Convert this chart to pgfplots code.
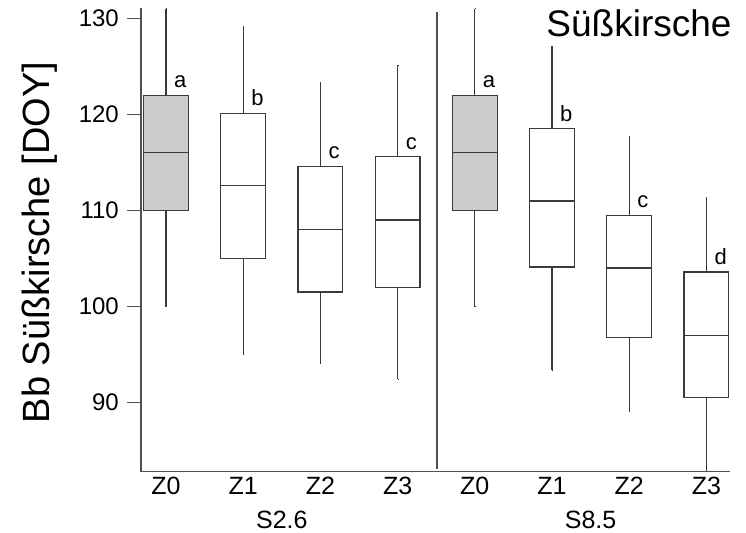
\documentclass[border=0pt]{standalone}
\usepackage{pgfplots}
\pgfplotsset{compat=1.18}
\usepgfplotslibrary{statistics}
\usepackage{fontspec}
\setmainfont{Liberation Sans}

\definecolor{lc}{HTML}{3A3A3A}
\definecolor{axc}{HTML}{505050}
\definecolor{boxfill}{HTML}{CCCCCC}

\pgfplotsset{
  bx/.style={draw=lc, line width=1.3bp, solid},
  boxplot/whisker extend=0.001,
  boxplot/box extend=0.58,
}
\tikzset{
  sig/.style={anchor=base west, inner sep=0pt, font=\fontsize{22bp}{26bp}\selectfont, text=black, xshift=8bp, yshift=7.5bp},
  grp/.style={anchor=base, inner sep=0pt, font=\fontsize{25bp}{30bp}\selectfont, text=black, yshift=-57bp},
}

\begin{document}
\begin{tikzpicture}
\begin{axis}[
  scale only axis,
  width=589bp, height=463.4bp,
  xmin=-0.324, xmax=7.306,
  ymin=82.8, ymax=131.05,
  axis x line*=bottom, axis y line*=left,
  axis line style={draw=axc, line width=1.5bp},
  clip=false,
  ytick={90,100,110,120,130},
  tick align=outside,
  major tick length=14bp,
  ytick style={draw=axc, line width=1.5bp},
  xtick={0,1,2,3,4,5,6,7},
  xticklabels={Z0,Z1,Z2,Z3,Z0,Z1,Z2,Z3},
  xtick style={draw=none},
  /pgf/number format/assume math mode=true,
  yticklabel style={font=\fontsize{24bp}{28bp}\selectfont, text=black, inner sep=0pt, xshift=-8bp},
  xticklabel style={font=\fontsize{25bp}{30bp}\selectfont, text=black, anchor=base, inner sep=0pt, yshift=-8.3bp},
  boxplot/draw direction=y,
]
% S2.6
\addplot[bx, fill=boxfill, boxplot prepared={draw position=0, lower whisker=100, lower quartile=110, median=116, upper quartile=122, upper whisker=131}] coordinates {};
\addplot[bx, fill=white, boxplot prepared={draw position=1, lower whisker=95, lower quartile=105, median=112.6, upper quartile=120.1, upper whisker=129.1}] coordinates {};
\addplot[bx, fill=white, boxplot prepared={draw position=2, lower whisker=94.1, lower quartile=101.5, median=108, upper quartile=114.6, upper whisker=123.3}] coordinates {};
\addplot[bx, fill=white, boxplot prepared={draw position=3, lower whisker=92.4, lower quartile=102, median=109, upper quartile=115.6, upper whisker=125.1}] coordinates {};
% S8.5
\addplot[bx, fill=boxfill, boxplot prepared={draw position=4, lower whisker=100, lower quartile=110, median=116, upper quartile=122, upper whisker=131}] coordinates {};
\addplot[bx, fill=white, boxplot prepared={draw position=5, lower whisker=93.4, lower quartile=104.1, median=111, upper quartile=118.5, upper whisker=127.1}] coordinates {};
\addplot[bx, fill=white, boxplot prepared={draw position=6, lower whisker=89.1, lower quartile=96.8, median=104, upper quartile=109.5, upper whisker=117.7}] coordinates {};
\addplot[bx, fill=white, boxplot prepared={draw position=7, lower whisker=82.9, lower quartile=90.55, median=97, upper quartile=103.6, upper whisker=111.35}] coordinates {};

\node[sig] at (axis cs:0,122) {a};
\node[sig] at (axis cs:1,120.1) {b};
\node[sig] at (axis cs:2,114.6) {c};
\node[sig] at (axis cs:3,115.6) {c};
\node[sig] at (axis cs:4,122) {a};
\node[sig] at (axis cs:5,118.5) {b};
\node[sig] at (axis cs:6,109.5) {c};
\node[sig] at (axis cs:7,103.6) {d};

% separator between the two sites
\draw[axc, line width=2.2bp] (axis cs:3.51,130.65) -- (axis cs:3.51,83.1);

% site labels under the zone labels
\node[grp] at (axis cs:1.5,82.8) {S2.6};
\node[grp] at (axis cs:5.5,82.8) {S8.5};

% panel title
\node[anchor=base east, inner sep=0pt, font=\fontsize{37bp}{44bp}\selectfont, xshift=1.7bp, yshift=-28.4bp] at (rel axis cs:1,1) {Süßkirsche};

% y axis title
\node[anchor=base, inner sep=0pt, font=\fontsize{38bp}{46bp}\selectfont, xshift=-91bp, yshift=-2.5bp, rotate=90] at (rel axis cs:0,0.5) {Bb Süßkirsche [DOY]};

\coordinate (o) at (rel axis cs:0,0);
\end{axis}
\path (o) ++(-141bp,-61.3bp) rectangle ++(746bp,533bp);
\end{tikzpicture}
\end{document}
